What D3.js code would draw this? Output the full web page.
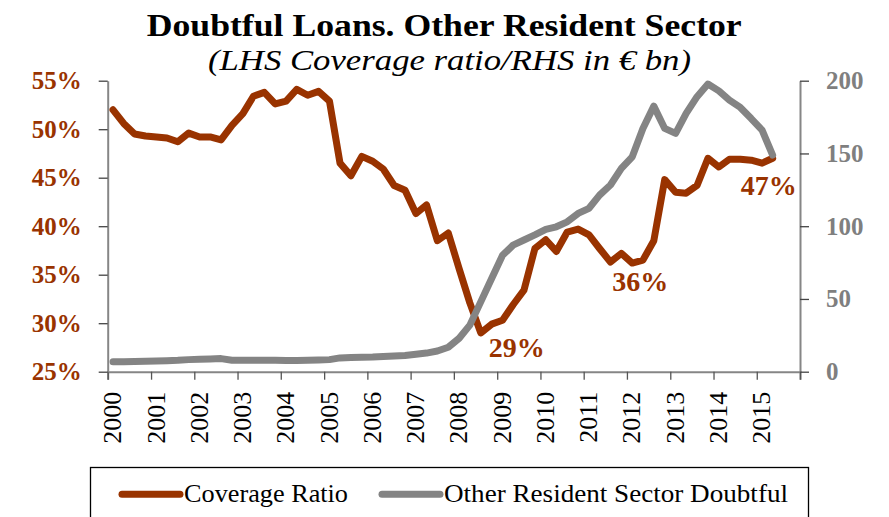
<!DOCTYPE html>
<html>
<head>
<meta charset="utf-8">
<script src="https://cdn.jsdelivr.net/npm/d3@7"></script>
<style>
  body { margin: 0; background: #fff; }
  svg { display: block; }
  text { font-family: "Liberation Serif", serif; }
</style>
</head>
<body>
<div id="chart"></div>
<script>
// tick labels for the x axis (one per year)
const YEARS = [2000, 2001, 2002, 2003, 2004, 2005, 2006, 2007, 2008, 2009, 2010, 2011, 2012, 2013, 2014, 2015]

// quarterly values, 2000 Q1 .. 2015 Q2
const COVERAGE = [
  52.0, 50.6, 49.5, 49.3, 49.2, 49.1, 48.7, 49.6, 49.2, 49.2,
  48.9, 50.4, 51.6, 53.4, 53.8, 52.6, 52.9, 54.1, 53.5, 53.9,
  52.9, 46.5, 45.2, 47.2, 46.7, 45.9, 44.2, 43.7, 41.3, 42.2,
  38.5, 39.3, 35.6, 32.1, 29.0, 29.9, 30.3, 31.9, 33.4, 37.7,
  38.6, 37.4, 39.4, 39.7, 39.1, 37.7, 36.3, 37.2, 36.2, 36.5,
  38.5, 44.8, 43.5, 43.4, 44.2, 47.0, 46.1, 46.9, 46.9, 46.8,
  46.5, 47.0
]
const DOUBTFUL = [
  6.9, 6.9, 7.0, 7.2, 7.4, 7.6, 7.8, 8.3, 8.5, 8.7,
  9.0, 7.9, 7.8, 7.8, 7.8, 7.8, 7.7, 7.7, 7.8, 8.0,
  8.3, 9.5, 9.8, 10.0, 10.1, 10.5, 10.8, 11.2, 12.0, 12.8,
  14.2, 16.8, 23, 32, 48, 64, 80, 87, 90.5, 94,
  97.8, 99.6, 103, 108.8, 112.3, 121.4, 128.3, 139.7, 147.7, 167.2,
  182.5, 167.2, 163.8, 177.5, 189, 197.7, 193, 186.7, 181.6, 174,
  166, 148.9
]
const LEFT_TICKS = [0.25, 0.30, 0.35, 0.40, 0.45, 0.50, 0.55]
const RIGHT_TICKS = [0, 50, 100, 150, 200]
// callouts: [quarter index, text]
const CALLOUTS = [[34, "29%"], [48, "36%"], [61, "47%"]]

const WIDTH = 889
const HEIGHT = 517
const LEFT = 107.7
const RIGHT = 800
const TOP = 80.7
const BOTTOM = 371.7
const ORANGE = "#993300"
const GREY = "#848484"

// mid-quarter dates
const DATES = COVERAGE.map((d, i) => new Date(YEARS[0] + Math.floor(i / 4), (i % 4) * 3 + 1, 15))

const xScale = d3.scaleTime()
  .domain([new Date(2000, 0, 1), new Date(2016, 0, 1)])
  .range([LEFT, RIGHT])

const yLeft = d3.scaleLinear()
  .domain([0.25, 0.55])
  .range([BOTTOM, TOP])

const yRight = d3.scaleLinear()
  .domain([0, 200])
  .range([BOTTOM, TOP])

let svg = d3.select("#chart")
  .append("svg")
  .attr("width", WIDTH)
  .attr("height", HEIGHT)

// title
svg.append("text")
  .attr("x", 146.7).attr("y", 36)
  .attr("textLength", 595).attr("lengthAdjust", "spacingAndGlyphs")
  .style("font-size", "32px").style("font-weight", "bold")
  .text("Doubtful Loans. Other Resident Sector")

svg.append("text")
  .attr("x", 208).attr("y", 70)
  .attr("textLength", 483).attr("lengthAdjust", "spacingAndGlyphs")
  .style("font-size", "30px").style("font-style", "italic")
  .text("(LHS Coverage ratio/RHS in € bn)")

// x axis
const yearDates = d3.range(YEARS[0], 2017).map(y => new Date(y, 0, 1))
const xAxis = svg.append("g")
  .attr("transform", `translate(0,${BOTTOM})`)
  .call(d3.axisBottom(xScale)
    .tickValues(yearDates)
    .tickSizeOuter(0)
    .tickSize(8)
    .tickFormat(d => YEARS.includes(d.getFullYear()) ? d.getFullYear() : ""))
xAxis.select(".domain").attr("stroke", "#868686").attr("stroke-width", 2)
xAxis.selectAll(".tick line").attr("stroke", "#555").attr("stroke-width", 1.3)
xAxis.selectAll(".tick text")
  .attr("transform", "rotate(-90)")
  .attr("x", -20).attr("y", 13).attr("dy", 0)
  .attr("text-anchor", "end")
  .attr("fill", "#000")
  .style("font-size", "26px")
  .style("font-family", "Liberation Serif")

// left axis
const leftAxis = svg.append("g")
  .attr("transform", `translate(${LEFT},0)`)
  .call(d3.axisLeft(yLeft)
    .tickValues(LEFT_TICKS)
    .tickSize(9)
    .tickSizeOuter(0)
    .tickPadding(17)
    .tickFormat(d3.format(".0%")))
leftAxis.select(".domain").attr("stroke", "#868686").attr("stroke-width", 2)
leftAxis.selectAll(".tick line").attr("stroke", "#444").attr("stroke-width", 1.3)
leftAxis.selectAll(".tick text")
  .attr("fill", ORANGE)
  .style("font-size", "25px").style("font-weight", "bold")
  .style("font-family", "Liberation Serif")

// right axis
const rightAxis = svg.append("g")
  .attr("transform", `translate(${RIGHT},0)`)
  .call(d3.axisRight(yRight)
    .tickValues(RIGHT_TICKS)
    .tickSize(9)
    .tickSizeOuter(0)
    .tickPadding(17))
rightAxis.select(".domain").attr("stroke", "#868686").attr("stroke-width", 2)
rightAxis.selectAll(".tick line").attr("stroke", "#444").attr("stroke-width", 1.3)
rightAxis.selectAll(".tick text")
  .attr("fill", "#7f7f7f")
  .style("font-size", "25px").style("font-weight", "bold")
  .style("font-family", "Liberation Serif")

// lines
const coverageLine = d3.line()
  .x((d, i) => xScale(DATES[i]))
  .y(d => yLeft(d / 100))

const doubtfulLine = d3.line()
  .x((d, i) => xScale(DATES[i]))
  .y(d => yRight(d))

svg.append("path")
  .datum(COVERAGE)
  .attr("d", coverageLine)
  .attr("fill", "none")
  .attr("stroke", ORANGE)
  .attr("stroke-width", 7)
  .attr("stroke-linejoin", "round")
  .attr("stroke-linecap", "round")

svg.append("path")
  .datum(DOUBTFUL)
  .attr("d", doubtfulLine)
  .attr("fill", "none")
  .attr("stroke", GREY)
  .attr("stroke-width", 7)
  .attr("stroke-linejoin", "round")
  .attr("stroke-linecap", "round")

// callout labels
const calloutOffsets = { "29%": [8, 24], "36%": [-20, 28], "47%": [-32, 37] }
svg.selectAll(".callout")
  .data(CALLOUTS)
  .enter()
  .append("text")
  .attr("class", "callout")
  .attr("x", d => xScale(DATES[d[0]]) + calloutOffsets[d[1]][0])
  .attr("y", d => yLeft(COVERAGE[d[0]] / 100) + calloutOffsets[d[1]][1])
  .attr("fill", ORANGE)
  .style("font-size", "28px").style("font-weight", "bold")
  .text(d => d[1])

// legend
const legend = svg.append("g")
svg.append("rect")
  .attr("x", 90.5).attr("y", 467.5)
  .attr("width", 718).attr("height", 60)
  .attr("fill", "none").attr("stroke", "#000").attr("stroke-width", 1.3)

const legendItems = [
  { name: "Coverage Ratio", color: ORANGE, x: 122, len: 164 },
  { name: "Other Resident Sector Doubtful", color: GREY, x: 382, len: 344 }
]
legendItems.forEach(item => {
  legend.append("line")
    .attr("x1", item.x).attr("x2", item.x + 58)
    .attr("y1", 494.3).attr("y2", 494.3)
    .attr("stroke", item.color).attr("stroke-width", 7)
    .attr("stroke-linecap", "round")
  legend.append("text")
    .attr("x", item.x + 62).attr("y", 502)
    .attr("textLength", item.len).attr("lengthAdjust", "spacingAndGlyphs")
    .style("font-size", "25px")
    .text(item.name)
})
</script>
</body>
</html>
